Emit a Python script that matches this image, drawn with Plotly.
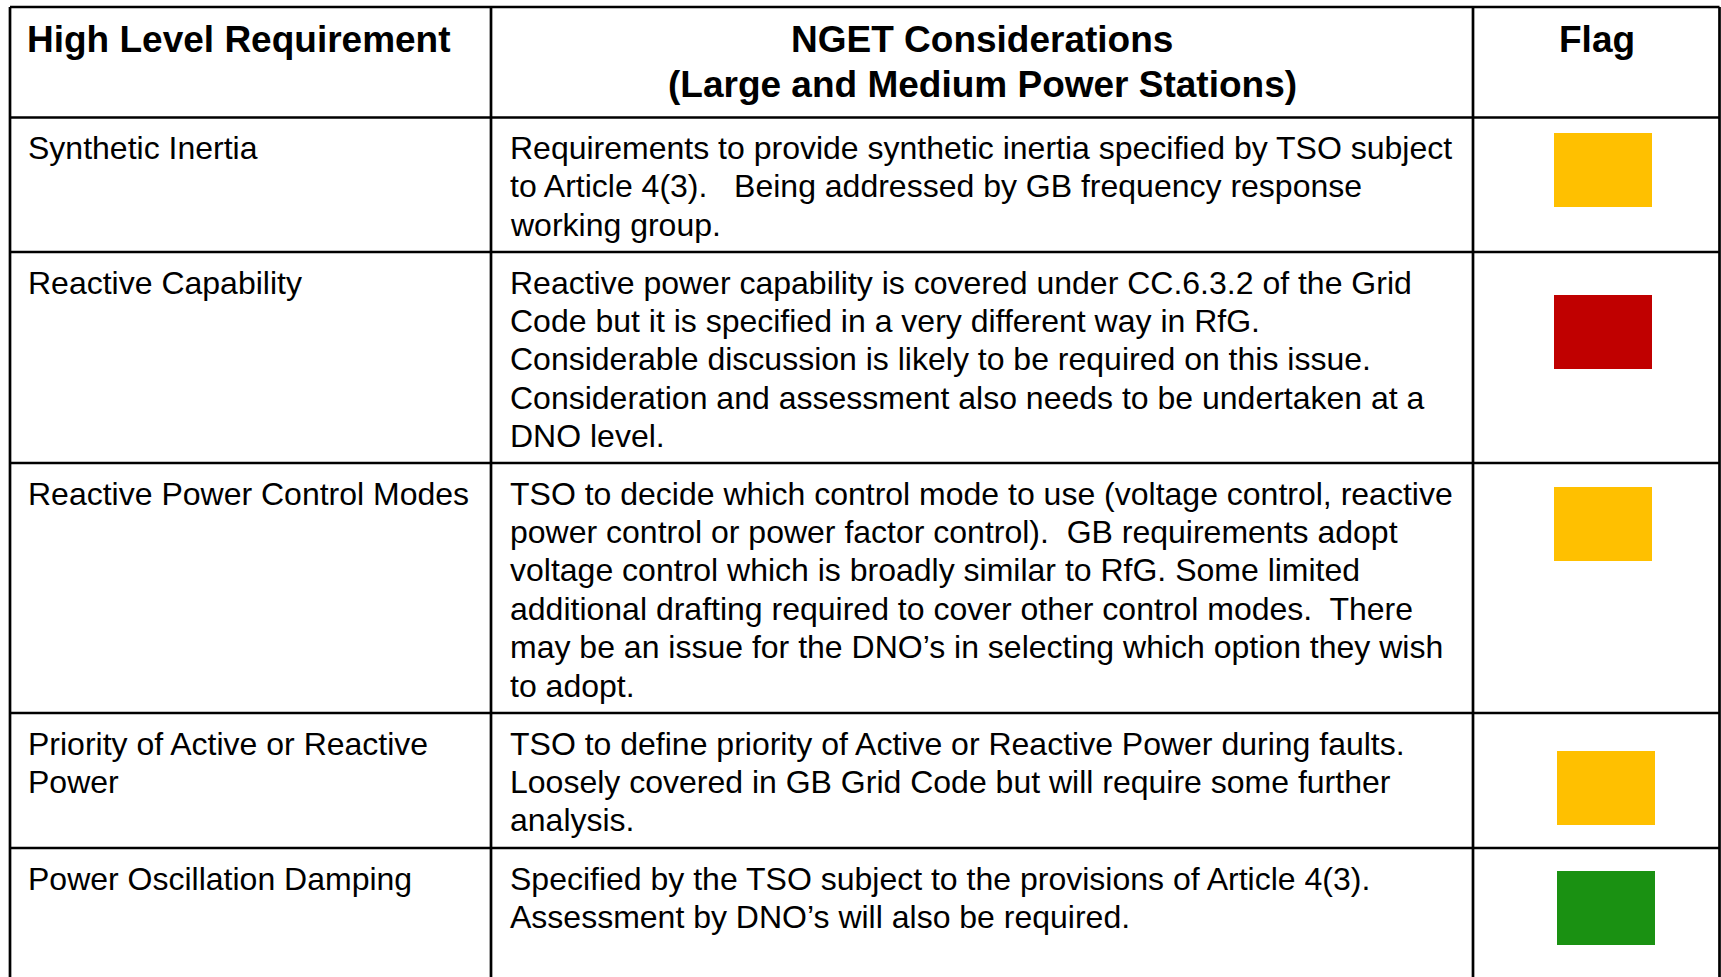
import plotly.graph_objects as go

# ---------------- data ----------------
headers = ["High Level Requirement",
           ["NGET Considerations", "(Large and Medium Power Stations)"],
           "Flag"]

requirements = [
    ["Synthetic Inertia"],
    ["Reactive Capability"],
    ["Reactive Power Control Modes"],
    ["Priority of Active or Reactive", "Power"],
    ["Power Oscillation Damping"],
]

considerations = [
    ["Requirements to provide synthetic inertia specified by TSO subject",
     "to Article 4(3).\u00a0\u00a0 Being addressed by GB frequency response",
     "working group."],
    ["Reactive power capability is covered under CC.6.3.2 of the Grid",
     "Code but it is specified in a very different way in RfG.",
     "Considerable discussion is likely to be required on this issue.",
     "Consideration and assessment also needs to be undertaken at a",
     "DNO level."],
    ["TSO to decide which control mode to use (voltage control, reactive",
     "power control or power factor control).\u00a0 GB requirements adopt",
     "voltage control which is broadly similar to RfG. Some limited",
     "additional drafting required to cover other control modes.\u00a0 There",
     "may be an issue for the DNO\u2019s in selecting which option they wish",
     "to adopt."],
    ["TSO to define priority of Active or Reactive Power during faults.",
     "Loosely covered in GB Grid Code but will require some further",
     "analysis."],
    ["Specified by the TSO subject to the provisions of Article 4(3).",
     "Assessment by DNO\u2019s will also be required."],
]

flags = ["amber", "red", "amber", "amber", "green"]

# ---------------- layout / style ----------------
W, H = 1721, 977
FONT = "Liberation Sans, Arial, sans-serif"
flag_colors = {"amber": "#FFC000", "red": "#C00000", "green": "#1A9112"}

x_left, x_c1, x_c2, x_right = 10, 491, 1473, 1719.5
y_top = 7
row_bounds = [117.5, 252, 463, 713, 848]      # top edge of each body row
flag_top_offset = [15.5, 43, 24, 38, 23]
flag_x_shift = [0, 0, 0, 3, 3]
flag_w, flag_h = 98, 74
body_size, head_size = 32, 37
body_lh, head_lh = 38.4, 45
first_line_off = 30.5

fig = go.Figure()
shapes = []
annotations = []

line_style = dict(color="black", width=2.7)
# horizontal rules
for y in [y_top] + row_bounds:
    shapes.append(dict(type="line", x0=x_left, x1=x_right, y0=y, y1=y,
                       xref="x", yref="y", line=line_style))
# vertical rules
for x in [x_left, x_c1, x_c2, x_right]:
    shapes.append(dict(type="line", x0=x, x1=x, y0=y_top, y1=H + 5,
                       xref="x", yref="y", line=line_style))

def add_text(x, y, txt, size, bold=False, anchor="left"):
    annotations.append(dict(
        x=x, y=y, xref="x", yref="y", text=("<b>%s</b>" % txt) if bold else txt,
        showarrow=False, xanchor=anchor, yanchor="middle",
        font=dict(family=FONT, size=size, color="black"),
        borderpad=0, borderwidth=0))

# header
head_y = 39.5
add_text(x_left + 17, head_y, headers[0], head_size, bold=True)
for i, ln in enumerate(headers[1]):
    add_text((x_c1 + x_c2) / 2, head_y + i * head_lh, ln, head_size, bold=True, anchor="center")
add_text((x_c2 + x_right) / 2 + 1, head_y, headers[2], head_size, bold=True, anchor="center")

# body rows
for r in range(len(requirements)):
    top = row_bounds[r]
    for i, ln in enumerate(requirements[r]):
        add_text(x_left + 17.5, top + first_line_off + i * body_lh, ln, body_size)
    for i, ln in enumerate(considerations[r]):
        add_text(x_c1 + 18.5, top + first_line_off + i * body_lh, ln, body_size)
    fx0 = 1554 + flag_x_shift[r]
    fy0 = top + flag_top_offset[r]
    shapes.append(dict(type="rect", x0=fx0, x1=fx0 + flag_w, y0=fy0, y1=fy0 + flag_h,
                       xref="x", yref="y", fillcolor=flag_colors[flags[r]],
                       line=dict(width=0), layer="above"))

fig.update_layout(
    width=W, height=H, margin=dict(l=0, r=0, t=0, b=0),
    paper_bgcolor="white", plot_bgcolor="white",
    xaxis=dict(range=[0, W], visible=False, fixedrange=True),
    yaxis=dict(range=[H, 0], visible=False, fixedrange=True),
    shapes=shapes, annotations=annotations, showlegend=False,
)
fig.write_html("out.html", config={"displayModeBar": False},
               post_script="document.body.style.margin='0';document.body.style.overflow='hidden';")
